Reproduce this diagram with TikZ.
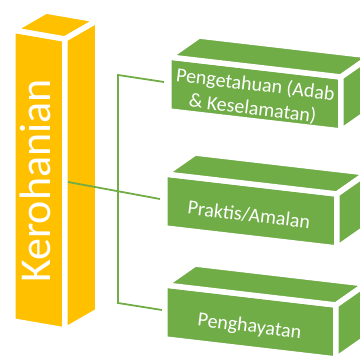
\documentclass[tikz,border=0pt]{standalone}
\usepackage{fontspec}
\setmainfont{Carlito}
\usetikzlibrary{calc}

\definecolor{gold}{HTML}{FFC000}
\definecolor{leaf}{HTML}{70AD47}

% cuboid: name, front top-left corner, width, height, depth, colour
\newcommand{\slab}[6]{%
  \coordinate (#1-tl) at #2;
  \coordinate (#1-tr) at ($(#1-tl)+#3$);
  \coordinate (#1-bl) at ($(#1-tl)+#4$);
  \coordinate (#1-br) at ($(#1-tr)+#4$);
  \path[facet=#6] (#1-tl) -- (#1-tr) -- (#1-br) -- (#1-bl) -- cycle;
  \path[facet=#6] (#1-tl) -- ++#5 -- ($(#1-tr)+#5$) -- (#1-tr) -- cycle;
  \path[facet=#6] (#1-tr) -- ++#5 -- ($(#1-br)+#5$) -- (#1-br) -- cycle;
}

\begin{document}
\begin{tikzpicture}[x=1pt, y=-1pt,
    facet/.style={fill=#1, draw=white, line width=5.5pt, line join=round},
    link/.style={draw=leaf, line width=1.8pt},
    boxtext/.style={text=white, font=\fontsize{20}{24}\selectfont,
                    align=center, rotate=-7}]
  \useasboundingbox (0,0) rectangle (360,358);
  \clip (0,0) rectangle (360,358);

  % pillar
  \slab{col}{(13,30)}{(52,9)}{(0,291)}{(33,-19)}{gold}
  \node[rotate=90, anchor=base, text=white,
        font=\fontsize{44}{50}\selectfont] (kero) at (50,181) {Kerohanian};

  % three blocks
  \slab{b1}{(169,57)}{(172,20)}{(0,54)}{(30,-21)}{leaf}
  \slab{b2}{(165,174)}{(172,20)}{(0,54)}{(30,-21)}{leaf}
  \slab{b3}{(165,285)}{(171,20)}{(0,54)}{(30,-21)}{leaf}

  \node[boxtext] (t1) at ($(b1-tl)!0.5!(b1-br)+(-1,3)$)
    {Pengetahuan (Adab\\\& Keselamatan)};
  \node[boxtext] (t2) at ($(b2-tl)!0.5!(b2-br)+(-2,4)$) {Praktis/Amalan};
  \node[boxtext] (t3) at ($(b3-tl)!0.5!(b3-br)+(-1,5)$) {Penghayatan};

  % connectors
  \coordinate (col-out) at (68,182);
  \coordinate (b1-in) at (164,82);
  \coordinate (b2-in) at (160,199);
  \coordinate (b3-in) at (162,310);
  \coordinate (j1) at (118,75);
  \coordinate (j3) at (118,303);
  \draw[link] (col-out) -- (b2-in);
  \draw[link] (b1-in) -- (j1) -- (j3) -- (b3-in);
\end{tikzpicture}
\end{document}
